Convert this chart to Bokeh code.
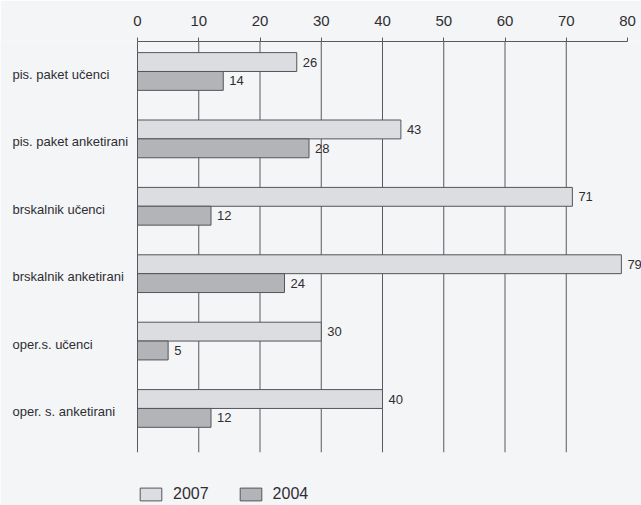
from bokeh.plotting import figure
from bokeh.models import (ColumnDataSource, FixedTicker, LabelSet, Legend,
                          LegendItem, Range1d)
from bokeh.core.properties import value
from bokeh.embed import file_html
from bokeh.resources import INLINE

# Data
categories = ["pis. paket učenci", "pis. paket anketirani", "brskalnik učenci",
              "brskalnik anketirani", "oper.s. učenci", "oper. s. anketirani"]
values_2007 = [26, 43, 71, 79, 30, 40]
values_2004 = [14, 28, 12, 24, 5, 12]
x_ticks = [0, 10, 20, 30, 40, 50, 60, 70, 80]
series_names = ["2007", "2004"]

BG = "#f4f5f7"
LINE = "#5a5a5e"
TEXT = "#2e2e32"
FILL_2007 = "#dcdde1"
FILL_2004 = "#b3b4b8"
FONT = value("Liberation Sans")

pos = list(range(len(categories)))
bar_h = 0.28
y_top = -0.445
grid_bottom = 5.65

# pixels per unit on the value scale
px = 6.125
x_lo = -137 / px
x_hi = 80 + 14 / px

src = ColumnDataSource(dict(
    pos=pos,
    cat=categories,
    y07=[p - bar_h / 2 for p in pos],
    y04=[p + bar_h / 2 for p in pos],
    v07=values_2007,
    v04=values_2004,
    t07=[str(v) for v in values_2007],
    t04=[str(v) for v in values_2004],
))

p = figure(width=641, height=505, output_backend="svg", toolbar_location=None,
           x_range=Range1d(x_lo, x_hi), y_range=Range1d(6.44, y_top),
           x_axis_location="above",
           min_border_left=0, min_border_right=0,
           min_border_top=41, min_border_bottom=0)
p.background_fill_color = BG
p.border_fill_color = BG
p.outline_line_color = None
p.xgrid.visible = False
p.ygrid.visible = False
p.yaxis.visible = False

xa = p.xaxis[0]
xa.ticker = FixedTicker(ticks=x_ticks)
xa.bounds = (0, 80)
xa.axis_line_color = LINE
xa.major_tick_line_color = LINE
xa.major_tick_out = 4
xa.major_tick_in = 0
xa.minor_tick_line_color = None
xa.major_label_standoff = 12
xa.major_label_text_font = "Liberation Sans"
xa.major_label_text_font_size = "15px"
xa.major_label_text_color = TEXT

# Vertical grid lines (the one at 0 doubles as the category axis line)
grid_x = x_ticks[:-1]
p.segment(x0=grid_x, x1=grid_x, y0=[y_top] * len(grid_x),
          y1=[grid_bottom] * len(grid_x), line_color=LINE, line_width=1)

r07 = p.hbar(y="y07", left=0, right="v07", height=bar_h, source=src,
             fill_color=FILL_2007, line_color="#55555a", line_width=1)
r04 = p.hbar(y="y04", left=0, right="v04", height=bar_h, source=src,
             fill_color=FILL_2004, line_color="#55555a", line_width=1)

p.add_layout(LabelSet(x="v07", y="y07", text="t07", source=src, x_offset=6,
                      text_baseline="middle", text_font=FONT,
                      text_font_size="13px", text_color=TEXT))
p.add_layout(LabelSet(x="v04", y="y04", text="t04", source=src, x_offset=6,
                      text_baseline="middle", text_font=FONT,
                      text_font_size="13px", text_color=TEXT))

# Category names, left-aligned near the page edge
p.add_layout(LabelSet(x=0, y="pos", text="cat", source=src, x_offset=-125,
                      y_offset=-3, text_align="left", text_baseline="middle",
                      text_font=FONT, text_font_size="13px", text_color=TEXT))

legend = Legend(items=[LegendItem(label=series_names[0], renderers=[r07]),
                       LegendItem(label=series_names[1], renderers=[r04])],
                orientation="horizontal", location=(137, 2),
                glyph_width=27, glyph_height=16, label_standoff=9,
                spacing=28, padding=0, margin=0,
                background_fill_alpha=0, border_line_color=None,
                label_text_font="Liberation Sans", label_text_font_size="16px",
                label_text_color=TEXT, label_height=16)
p.add_layout(legend)

open("out.html", "w").write(file_html(p, INLINE))
